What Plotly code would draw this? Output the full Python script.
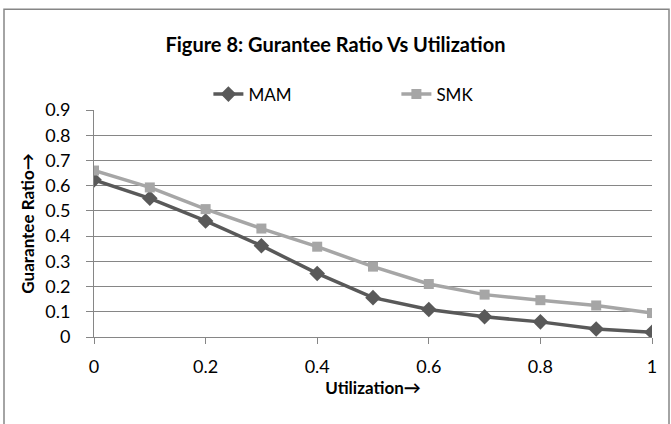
import plotly.graph_objects as go

utilization = [0, 0.1, 0.2, 0.3, 0.4, 0.5, 0.6, 0.7, 0.8, 0.9, 1.0]
mam = [0.623, 0.55, 0.46, 0.362, 0.252, 0.156, 0.109, 0.080, 0.060, 0.032, 0.019]
smk = [0.66, 0.593, 0.507, 0.43, 0.358, 0.279, 0.21, 0.168, 0.146, 0.125, 0.095]
x_ticks = [0, 0.2, 0.4, 0.6, 0.8, 1]
y_ticks = [0, 0.1, 0.2, 0.3, 0.4, 0.5, 0.6, 0.7, 0.8, 0.9]

FONT = "Lato, 'Open Sans', sans-serif"

fig = go.Figure()
fig.add_trace(go.Scatter(
    x=utilization, y=mam, name="MAM", mode="lines+markers",
    line=dict(color="#595959", width=3.5),
    marker=dict(symbol="diamond", size=12, color="#595959"),
))
fig.add_trace(go.Scatter(
    x=utilization, y=smk, name="SMK", mode="lines+markers",
    line=dict(color="#a6a6a6", width=3.5),
    marker=dict(symbol="square", size=10, color="#a6a6a6"),
))

fig.update_layout(
    width=671, height=424,
    margin=dict(l=94, r=19, t=110, b=87),
    paper_bgcolor="white", plot_bgcolor="white",
    font=dict(family=FONT, color="black", size=17),
    title=dict(text="<b>Figure 8: Gurantee Ratio Vs Utilization</b>",
               x=0.5, xanchor="center", y=1 - 45/424, yanchor="middle",
               yref="container", font=dict(size=20, family=FONT)),
    legend=dict(orientation="h", x=0.205, xanchor="left", y=1.068, yanchor="middle",
                entrywidth=143, entrywidthmode="pixels",
                font=dict(size=17, family=FONT), bgcolor="rgba(0,0,0,0)"),
    xaxis=dict(range=[0, 1], tickvals=x_ticks, ticktext=[f"{v:g}" for v in x_ticks],
               tickfont=dict(size=18),
               showgrid=False, zeroline=False, showline=True, linecolor="#868686",
               linewidth=1, ticks="outside", ticklen=6, tickcolor="#868686",
               ticklabelstandoff=7,
               title=dict(text="<b>Utilization\u2192</b>", font=dict(size=17), standoff=3)),
    yaxis=dict(range=[0, 0.9], tickvals=y_ticks, ticktext=[f"{v:g}" for v in y_ticks],
               tickfont=dict(size=18),
               showgrid=True, gridcolor="#868686", gridwidth=1,
               zeroline=False, showline=True, linecolor="#868686", linewidth=1,
               ticks="outside", ticklen=7, tickcolor="#868686",
               ticklabelstandoff=12,
               title=dict(text="<b>Guarantee Ratio\u2192</b>", font=dict(size=17), standoff=6)),
    shapes=[dict(type="rect", xref="paper", yref="paper",
                 x0=(4-94)/558, x1=(669-94)/558, y0=-0.6, y1=(337-10)/226.5,
                 line=dict(color="#868686", width=1.5), fillcolor="rgba(0,0,0,0)", layer="below")],
)

fig.write_html("out.html")
